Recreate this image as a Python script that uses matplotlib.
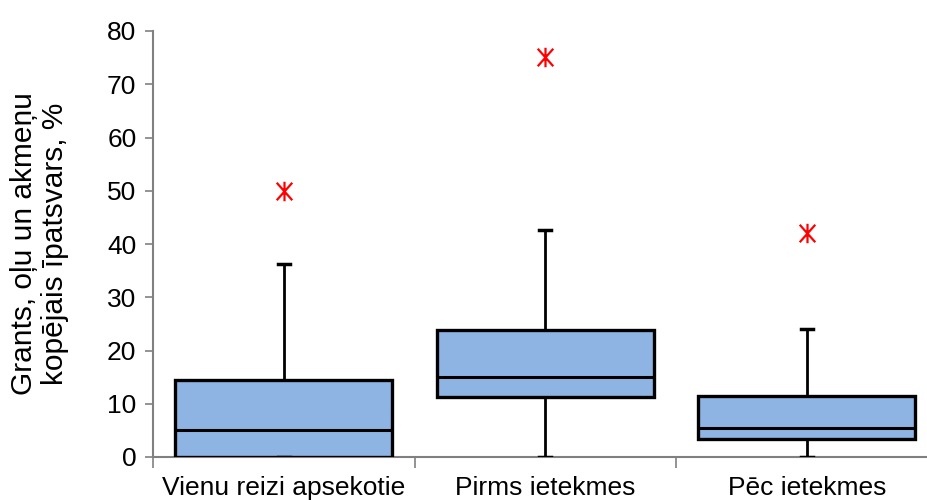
import matplotlib
matplotlib.use("Agg")
import matplotlib.pyplot as plt
from matplotlib.path import Path

plt.rcParams['font.family'] = ['Liberation Sans', 'DejaVu Sans']

categories = ["Vienu reizi apsekotie", "Pirms ietekmes", "Pēc ietekmes"]
q1 = [0.0, 11.3, 3.4]
median = [5.1, 15.0, 5.5]
q3 = [14.5, 23.8, 11.5]
whisker_lo = [0.0, 0.0, 0.0]
whisker_hi = [36.3, 42.6, 24.0]
outliers = [[50.0], [75.1], [42.1]]

stats = []
for i in range(len(categories)):
    stats.append({
        "label": categories[i],
        "q1": q1[i], "med": median[i], "q3": q3[i],
        "whislo": whisker_lo[i], "whishi": whisker_hi[i],
        "fliers": outliers[i],
    })

# excel-like asterisk: an X with a vertical stroke through it
star = Path([(-0.8, -0.9), (0.8, 0.9), (-0.8, 0.9), (0.8, -0.9), (0, -1), (0, 1)],
            [Path.MOVETO, Path.LINETO, Path.MOVETO, Path.LINETO, Path.MOVETO, Path.LINETO])

fig = plt.figure(figsize=(9.28, 5), dpi=100)
ax = fig.add_axes([0.165, 0.086, 0.835, 0.852])

ax.bxp(stats, positions=range(len(categories)), widths=0.83, patch_artist=True,
       boxprops=dict(facecolor="#8EB4E3", edgecolor="black", linewidth=2.4),
       medianprops=dict(color="black", linewidth=2.2),
       whiskerprops=dict(color="black", linewidth=2),
       capprops=dict(color="black", linewidth=2.5),
       capwidths=0.045,
       flierprops=dict(marker=star, markersize=14, markeredgecolor="red",
                       markerfacecolor="none", markeredgewidth=1.6, linestyle="none"))

ax.set_xlim(-0.5, 2.464)
ax.set_ylim(0, 80)
ax.set_yticks(range(0, 81, 10))

ax.set_xticks(range(len(categories)))
ax.set_xticklabels(categories)
ax.set_xticks([-0.5, 0.5, 1.5], minor=True)
ax.tick_params(axis="x", which="major", length=0, pad=14, labelsize=19)
ax.tick_params(axis="x", which="minor", length=8, width=1.2, color="#808080")
ax.tick_params(axis="y", length=6, width=1.2, color="#808080", labelsize=19, pad=6)

for side in ["top", "right"]:
    ax.spines[side].set_visible(False)
for side in ["left", "bottom"]:
    ax.spines[side].set_color("#808080")
    ax.spines[side].set_linewidth(1.5)
ax.spines["bottom"].set_zorder(0)

ax.set_ylabel("Grants, oļu un akmeņu\nkopējais īpatsvars, %", fontsize=21.5,
              linespacing=1.15)
ax.yaxis.set_label_coords(-0.108, 0.5)

fig.savefig("out.png", dpi=100)
